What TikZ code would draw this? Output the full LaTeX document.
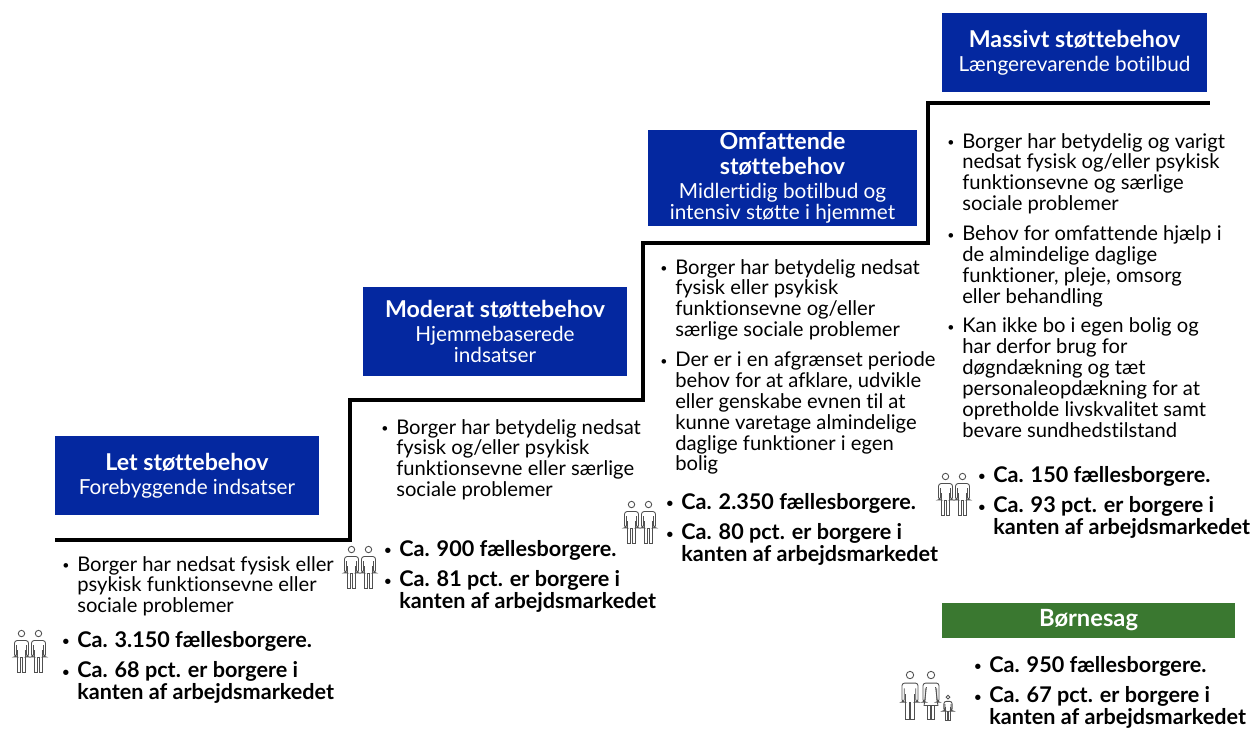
\documentclass[tikz,border=0pt]{standalone}
\usepackage{fontspec}
\setmainfont{Lato}[Ligatures=NoCommon]
\usetikzlibrary{positioning,calc}

\definecolor{nblue}{RGB}{4,40,160}
\definecolor{ngreen}{RGB}{58,120,48}
\definecolor{ikongraa}{RGB}{80,80,80}

\newcommand\pkt[1]{\par\hangindent=8.5pt\hangafter=1\noindent\makebox[8.5pt][l]{\raisebox{0.8pt}{\scriptsize\textbullet}}#1}
\newcommand\tekst[2]{\begin{minipage}[t]{#1}\setlength\parskip{5pt}\fontsize{11.5}{11.9}\selectfont #2\end{minipage}}
\newcommand\tal[2]{\begin{minipage}[t]{#1}\setlength\parskip{5pt}\fontsize{12.3}{12.5}\selectfont\bfseries #2\end{minipage}}
\newcommand\boks[3]{\begin{minipage}{#1}\centering{\fontsize{13.2}{14.2}\selectfont\bfseries #2\par}\vspace{1.2pt}{\fontsize{11.8}{12.2}\selectfont #3\par}\end{minipage}}

\tikzset{
  trin/.style={fill=nblue,text=white,inner sep=0pt},
  liste/.style={anchor=base west,inner sep=0pt},
  trappe/.style={line width=2pt},
  ikon/.style={draw=ikongraa,line width=0.5pt},
  person/.pic={
    \draw[ikon] (0,3.5) circle (3.2);
    \draw[ikon,rounded corners=1.5pt] (-5,15) -- (-5,27) -- (-7,27) -- (-7,10.5) -- (7,10.5) -- (7,27) -- (5,27) -- (5,15);
    \draw[ikon] (-4,20) -- (-4,42) -- (-0.6,42) -- (-0.6,27) -- (0.6,27) -- (0.6,42) -- (4,42) -- (4,20);
  },
  kvinde/.pic={
    \draw[ikon] (0,3.5) circle (3.2);
    \draw[ikon,rounded corners=1.5pt] (-5,15) -- (-5,27) -- (-7,27) -- (-7,10.5) -- (7,10.5) -- (7,27) -- (5,27) -- (5,15);
    \draw[ikon] (-4,14) -- (-6,30) -- (6,30) -- (4,14);
    \draw[ikon] (-3,30) -- (-3,42) -- (-0.6,42) -- (-0.6,30) (0.6,30) -- (0.6,42) -- (3,42) -- (3,30);
  },
  par/.pic={
    \pic at (-8.5,0) {person};
    \pic at (8.5,0) {person};
  },
}

\begin{document}
\begin{tikzpicture}[x=0.02cm,y=-0.02cm]
\useasboundingbox (0,0) rectangle (1258,731);

\draw[trappe] (55,540) -| (350,400) -| (643,243) -| (928,103) -- (1210,103);

\node[trin,minimum width=5.28cm,minimum height=1.58cm] (1) at (187,475.5) {\boks{5cm}{Let støttebehov}{Forebyggende indsatser}};
\node[trin,minimum width=5.28cm,minimum height=1.78cm] (2) at (495,331.5) {\boks{5cm}{Moderat støttebehov}{Hjemmebaserede\\indsatser}};
\node[trin,minimum width=5.38cm,minimum height=1.92cm] (3) at (782.5,178) {\boks{5cm}{Omfattende\\støttebehov}{Midlertidig botilbud og\\intensiv støtte i hjemmet}};
\node[trin,minimum width=5.30cm,minimum height=1.58cm] (4) at (1074.5,52.5) {\boks{5cm}{Massivt støttebehov}{Længerevarende botilbud}};
\node[fill=ngreen,text=white,inner sep=0pt,minimum width=5.86cm,minimum height=0.7cm] (5) at (1088.5,620.5) {\fontsize{13.5}{14}\selectfont\bfseries Børnesag};

\node[liste] (1t) at (62,571) {\tekst{5.6cm}{\pkt{Borger har nedsat fysisk eller\\psykisk funktionsevne eller\\sociale problemer}}};
\node[liste] (1s) at (62,647) {\tal{5.6cm}{\pkt{Ca. 3.150 fællesborgere.}\pkt{Ca. 68 pct. er borgere i\\kanten af arbejdsmarkedet}}};

\node[liste] (2t) at (381,434) {\tekst{5.6cm}{\pkt{Borger har betydelig nedsat\\fysisk og/eller psykisk\\funktionsevne eller særlige\\sociale problemer}}};
\node[liste] (2s) at (384,556) {\tal{5.6cm}{\pkt{Ca. 900 fællesborgere.}\pkt{Ca. 81 pct. er borgere i\\kanten af arbejdsmarkedet}}};

\node[liste] (3t) at (660,274) {\tekst{5.6cm}{\pkt{Borger har betydelig nedsat\\fysisk eller psykisk\\funktionsevne og/eller\\særlige sociale problemer}\pkt{Der er i en afgrænset periode\\behov for at afklare, udvikle\\eller genskabe evnen til at\\kunne varetage almindelige\\daglige funktioner i egen\\bolig}}};
\node[liste] (3s) at (666,509) {\tal{5.6cm}{\pkt{Ca. 2.350 fællesborgere.}\pkt{Ca. 80 pct. er borgere i\\kanten af arbejdsmarkedet}}};

\node[liste] (4t) at (947,148) {\tekst{5.6cm}{\pkt{Borger har betydelig og varigt\\nedsat fysisk og/eller psykisk\\funktionsevne og særlige\\sociale problemer}\pkt{Behov for omfattende hjælp i\\de almindelige daglige\\funktioner, pleje, omsorg\\eller behandling}\pkt{Kan ikke bo i egen bolig og\\har derfor brug for\\døgndækning og tæt\\personaleopdækning for at\\opretholde livskvalitet samt\\bevare sundhedstilstand}}};
\node[liste] (4s) at (978,482) {\tal{5.6cm}{\pkt{Ca. 150 fællesborgere.}\pkt{Ca. 93 pct. er borgere i\\kanten af arbejdsmarkedet}}};

\node[liste] (5s) at (974,672) {\tal{5.6cm}{\pkt{Ca. 950 fællesborgere.}\pkt{Ca. 67 pct. er borgere i\\kanten af arbejdsmarkedet}}};

\pic at (30,630) {par};
\pic at (360,546) {par};
\pic at (640,501) {par};
\pic at (954,473) {par};
\pic[scale=1.15] at (910,671) {person};
\pic[scale=1.15] at (931,671) {kvinde};
\pic[scale=0.6] at (948,695) {person};
\end{tikzpicture}
\end{document}
